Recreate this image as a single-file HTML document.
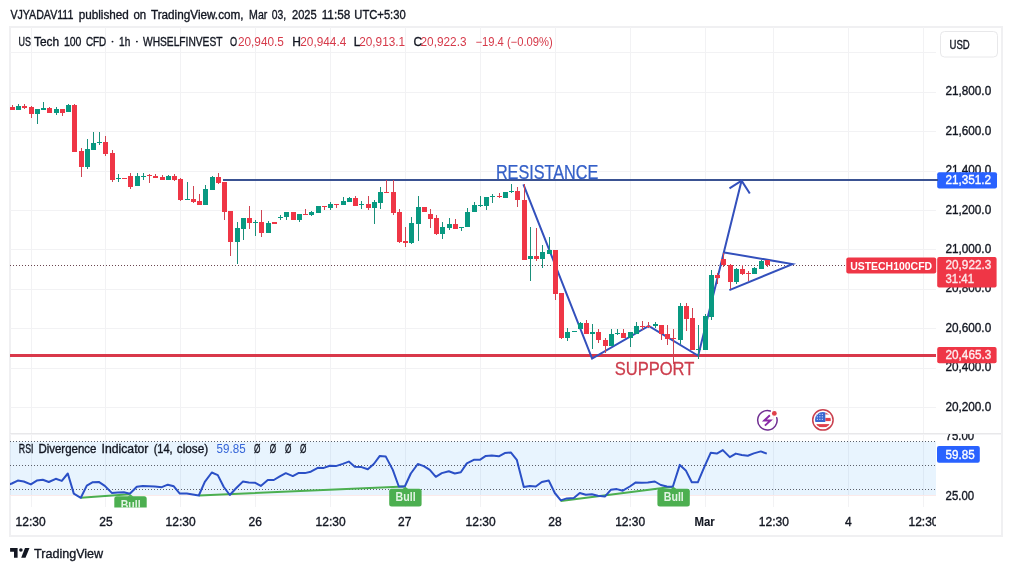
<!DOCTYPE html>
<html><head><meta charset="utf-8"><style>
html,body{margin:0;padding:0;background:#fff;}
body{width:1012px;height:571px;overflow:hidden;}
svg{display:block;font-family:'Liberation Sans', sans-serif;will-change:transform;}
</style></head><body>
<svg width="1012" height="571" viewBox="0 0 1012 571">
<defs>
<clipPath id="main"><rect x="10" y="27" width="926" height="406"/></clipPath>
<clipPath id="rsi"><rect x="10" y="435" width="926" height="72.5"/></clipPath>
<clipPath id="taxis"><rect x="10" y="507" width="926" height="29"/></clipPath>
</defs>
<text x="10.4" y="18.6" font-size="12" fill="#131722" font-weight="normal" text-anchor="start" textLength="63.0" lengthAdjust="spacingAndGlyphs" stroke="#131722" stroke-width="0.35">VJYADAV111</text>
<text x="78.7" y="18.6" font-size="12" fill="#131722" font-weight="normal" text-anchor="start" textLength="50.1" lengthAdjust="spacingAndGlyphs" stroke="#131722" stroke-width="0.35">published</text>
<text x="133.5" y="18.6" font-size="12" fill="#131722" font-weight="normal" text-anchor="start" textLength="12.7" lengthAdjust="spacingAndGlyphs" stroke="#131722" stroke-width="0.35">on</text>
<text x="150.9" y="18.6" font-size="12" fill="#131722" font-weight="normal" text-anchor="start" textLength="92.7" lengthAdjust="spacingAndGlyphs" stroke="#131722" stroke-width="0.35">TradingView.com,</text>
<text x="249.1" y="18.6" font-size="12" fill="#131722" font-weight="normal" text-anchor="start" textLength="18.2" lengthAdjust="spacingAndGlyphs" stroke="#131722" stroke-width="0.35">Mar</text>
<text x="271.7" y="18.6" font-size="12" fill="#131722" font-weight="normal" text-anchor="start" textLength="14.4" lengthAdjust="spacingAndGlyphs" stroke="#131722" stroke-width="0.35">03,</text>
<text x="292" y="18.6" font-size="12" fill="#131722" font-weight="normal" text-anchor="start" textLength="24.7" lengthAdjust="spacingAndGlyphs" stroke="#131722" stroke-width="0.35">2025</text>
<text x="321.7" y="18.6" font-size="12" fill="#131722" font-weight="normal" text-anchor="start" textLength="28.6" lengthAdjust="spacingAndGlyphs" stroke="#131722" stroke-width="0.35">11:58</text>
<text x="354.3" y="18.6" font-size="12" fill="#131722" font-weight="normal" text-anchor="start" textLength="51.4" lengthAdjust="spacingAndGlyphs" stroke="#131722" stroke-width="0.35">UTC+5:30</text>
<rect x="10" y="27" width="992" height="509" fill="none" stroke="#f0f0f2" stroke-width="2"/>
<path d="M31.5 27V433 M31.5 435V507 M105.5 27V433 M105.5 435V507 M180.5 27V433 M180.5 435V507 M255.5 27V433 M255.5 435V507 M330.5 27V433 M330.5 435V507 M405.5 27V433 M405.5 435V507 M480.5 27V433 M480.5 435V507 M555.5 27V433 M555.5 435V507 M630.5 27V433 M630.5 435V507 M705.5 27V433 M705.5 435V507 M773.5 27V433 M773.5 435V507 M848.5 27V433 M848.5 435V507 M923.5 27V433 M923.5 435V507 M10 52.5H936 M10 92.5H936 M10 131.5H936 M10 171.5H936 M10 210.5H936 M10 249.5H936 M10 289.5H936 M10 328.5H936 M10 368.5H936 M10 407.5H936" stroke="#f2f2f4" stroke-width="1" fill="none"/>
<path d="M10 433.5H1001" stroke="#e8e8ea" stroke-width="1"/>
<path d="M10 434.5H1001" stroke="#f3f3f5" stroke-width="1"/>
<g clip-path="url(#main)">
<path d="M10 265.5H846" stroke="#6a4650" stroke-width="1" stroke-dasharray="1 2"/>
<path d="M223 180H936" stroke="#3a5292" stroke-width="2"/>
<path d="M10 355.4H936" stroke="#d9384a" stroke-width="3"/>
<path d="M523.4 184.3L592.1 358.5L648.7 326L698.2 355.8L741.6 180.6" stroke="#3350bc" stroke-width="2" fill="none" stroke-linejoin="miter"/>
<path d="M729.5 188.3L741.6 180.6L749.8 193.5" stroke="#3350bc" stroke-width="2" fill="none"/>
<path d="M724.2 252.4L792.5 264.1L729.4 290.1" stroke="#3350bc" stroke-width="2" fill="none"/>
<text x="495.9" y="179.2" font-size="19.5" fill="#3560c8" font-weight="normal" text-anchor="start" textLength="102.4" lengthAdjust="spacingAndGlyphs" stroke="#3560c8" stroke-width="0.25">RESISTANCE</text>
<text x="614.7" y="374.5" font-size="19" fill="#cc3d4c" font-weight="normal" text-anchor="start" textLength="79.7" lengthAdjust="spacingAndGlyphs" stroke="#cc3d4c" stroke-width="0.3">SUPPORT</text>
<path d="M18.5 104V110 M37.5 109V124 M43.5 102V110 M56.5 107V115 M68.5 104V112 M87.5 139V169 M93.5 132V150 M99.5 132V145 M118.5 174V182 M137.5 173V186 M143.5 173V180 M168.5 175V180 M187.5 182V200 M205.5 185V205 M212.5 176V190 M237.5 222V264 M243.5 218V240 M255.5 220V236 M268.5 221V233 M280.5 215V220 M286.5 212V220 M299.5 214V222 M311.5 211V216 M318.5 206V213 M330.5 202V210 M343.5 197V205 M349.5 197V202 M361.5 201V209 M374.5 200V224 M380.5 187V209 M411.5 217V244 M418.5 196V241 M442.5 222V239 M449.5 218V230 M461.5 227V231 M467.5 208V227 M474.5 202V212 M480.5 196V207 M486.5 197V210 M492.5 194V203 M505.5 192V198 M511.5 184V193 M530.5 227V281 M542.5 245V268 M549.5 237V254 M567.5 328V341 M574.5 331V332 M580.5 322V329 M592.5 324V349 M611.5 329V346 M617.5 329V335 M630.5 332V347 M636.5 322V334 M655.5 322V328 M680.5 303V344 M698.5 325V359 M705.5 314V350 M711.5 270V320 M736.5 268V284 M754.5 267V274 M761.5 260V269" stroke="#1a8f7a" stroke-width="1" fill="none"/>
<path d="M12.5 105V110 M24.5 104V109 M31.5 106V118 M49.5 107V113 M62.5 109V116 M74.5 104V152 M81.5 148V177 M105.5 136V156 M112.5 150V182 M124.5 178V179 M130.5 173V189 M149.5 174V183 M155.5 174V178 M162.5 175V180 M174.5 174V181 M180.5 178V201 M193.5 186V203 M199.5 194V205 M218.5 173V184 M224.5 182V220 M230.5 211V256 M249.5 206V229 M261.5 210V237 M274.5 222V224 M293.5 212V220 M305.5 209V215 M324.5 206V210 M336.5 204V208 M355.5 196V206 M368.5 196V210 M386.5 180V193 M393.5 180V215 M399.5 209V243 M405.5 227V247 M424.5 207V212 M430.5 209V228 M436.5 215V235 M455.5 219V229 M499.5 193V198 M517.5 187V207 M524.5 184V260 M536.5 228V261 M555.5 250V300 M561.5 293V339 M586.5 320V334 M598.5 329V343 M605.5 338V353 M623.5 329V338 M642.5 321V330 M648.5 322V328 M661.5 325V340 M667.5 325V345 M673.5 329V364 M686.5 303V331 M692.5 308V350 M717.5 273V284 M723.5 253V267 M730.5 264V289 M742.5 265V275 M748.5 271V281 M767.5 260V267" stroke="#cf4452" stroke-width="1" fill="none"/>
<path d="M16 106h5V110h-5Z M35 109h5V114h-5Z M41 108h5V110h-5Z M54 109h5V113h-5Z M66 105h5V112h-5Z M85 149h5V167h-5Z M91 143h5V150h-5Z M97 142h5V143h-5Z M116 178h5V179h-5Z M135 176h5V186h-5Z M141 176h5V177h-5Z M166 176h5V180h-5Z M185 199h5V200h-5Z M203 189h5V205h-5Z M210 177h5V190h-5Z M235 228h5V242h-5Z M241 218h5V229h-5Z M253 222h5V223h-5Z M266 223h5V233h-5Z M278 217h5V218h-5Z M284 212h5V217h-5Z M297 214h5V220h-5Z M309 212h5V215h-5Z M316 206h5V213h-5Z M328 204h5V208h-5Z M341 201h5V205h-5Z M347 198h5V202h-5Z M359 204h5V205h-5Z M372 202h5V208h-5Z M378 192h5V203h-5Z M409 223h5V243h-5Z M416 207h5V224h-5Z M440 227h5V234h-5Z M447 224h5V228h-5Z M459 227h5V228h-5Z M465 212h5V227h-5Z M472 205h5V212h-5Z M478 205h5V206h-5Z M484 197h5V206h-5Z M490 196h5V197h-5Z M503 192h5V198h-5Z M509 191h5V192h-5Z M528 256h5V259h-5Z M540 252h5V259h-5Z M547 250h5V254h-5Z M565 332h5V338h-5Z M572 331h5V332h-5Z M578 323h5V329h-5Z M590 332h5V334h-5Z M609 334h5V346h-5Z M615 333h5V334h-5Z M628 332h5V338h-5Z M634 326h5V334h-5Z M653 324h5V326h-5Z M678 306h5V340h-5Z M696 349h5V350h-5Z M703 316h5V350h-5Z M709 275h5V317h-5Z M734 269h5V282h-5Z M752 268h5V274h-5Z M759 261h5V269h-5Z" fill="#089981"/>
<path d="M10 107h5V110h-5Z M22 106h5V108h-5Z M29 107h5V114h-5Z M47 108h5V113h-5Z M60 109h5V113h-5Z M72 105h5V152h-5Z M79 151h5V167h-5Z M103 142h5V154h-5Z M110 153h5V180h-5Z M122 178h5V179h-5Z M128 176h5V187h-5Z M147 175h5V176h-5Z M153 176h5V178h-5Z M160 177h5V180h-5Z M172 176h5V180h-5Z M178 179h5V200h-5Z M191 199h5V202h-5Z M197 201h5V205h-5Z M216 177h5V183h-5Z M222 182h5V212h-5Z M228 211h5V242h-5Z M247 218h5V223h-5Z M259 222h5V233h-5Z M272 222h5V224h-5Z M291 212h5V220h-5Z M303 214h5V215h-5Z M322 206h5V207h-5Z M334 204h5V205h-5Z M353 198h5V206h-5Z M366 204h5V208h-5Z M384 192h5V193h-5Z M391 192h5V213h-5Z M397 212h5V242h-5Z M403 241h5V243h-5Z M422 207h5V212h-5Z M428 214h5V219h-5Z M434 218h5V234h-5Z M453 224h5V229h-5Z M497 196h5V197h-5Z M515 191h5V200h-5Z M522 200h5V260h-5Z M534 256h5V259h-5Z M553 250h5V294h-5Z M559 293h5V338h-5Z M584 323h5V334h-5Z M596 332h5V340h-5Z M603 340h5V346h-5Z M621 333h5V338h-5Z M640 326h5V327h-5Z M646 326h5V327h-5Z M659 325h5V334h-5Z M665 334h5V339h-5Z M671 338h5V339h-5Z M684 306h5V319h-5Z M690 318h5V350h-5Z M715 275h5V278h-5Z M721 259h5V265h-5Z M728 265h5V282h-5Z M740 269h5V274h-5Z M746 273h5V274h-5Z M765 260h5V265h-5Z" fill="#ef3646"/>
<g>
<path d="M776.73 417.66A9.7 9.7 0 1 1 770.3 411.05" fill="none" stroke="#6f2d91" stroke-width="1.5" stroke-linecap="round"/>
<path d="M769.9 415.3L764.3 420.5H770.5L764.9 425.6" fill="none" stroke="#8a2aa8" stroke-width="1.9" stroke-linejoin="miter" stroke-linecap="butt"/>
<circle cx="774.35" cy="413.4" r="2.4" fill="#e0404a"/>
<circle cx="822.9" cy="419.9" r="10.2" fill="#fff" stroke="#c9404e" stroke-width="1.5"/>
<clipPath id="flag"><circle cx="822.9" cy="419.9" r="7.9"/></clipPath>
<g clip-path="url(#flag)">
<rect x="814" y="411" width="18" height="18" fill="#fff"/>
<rect x="825.3" y="412.6" width="6" height="1.9" fill="#e46070"/>
<rect x="825.3" y="417.9" width="6" height="3.2" fill="#e0404c"/>
<rect x="814" y="424.1" width="18" height="3.1" fill="#e0404c"/>
<rect x="814" y="411" width="11.3" height="11" fill="#3a66d0"/>
<rect x="816.8" y="413.8" width="1.1" height="1.1" fill="#cfe0ff"/><rect x="819.3" y="413.8" width="1.1" height="1.1" fill="#cfe0ff"/><rect x="821.8" y="413.8" width="1.1" height="1.1" fill="#cfe0ff"/><rect x="816.8" y="416.3" width="1.1" height="1.1" fill="#cfe0ff"/><rect x="819.3" y="416.3" width="1.1" height="1.1" fill="#cfe0ff"/><rect x="821.8" y="416.3" width="1.1" height="1.1" fill="#cfe0ff"/><rect x="816.8" y="418.8" width="1.1" height="1.1" fill="#cfe0ff"/><rect x="819.3" y="418.8" width="1.1" height="1.1" fill="#cfe0ff"/><rect x="821.8" y="418.8" width="1.1" height="1.1" fill="#cfe0ff"/>
</g>
</g>
</g>
<text x="18.6" y="45.7" font-size="12" fill="#131722" font-weight="normal" text-anchor="start" textLength="12.4" lengthAdjust="spacingAndGlyphs" stroke="#131722" stroke-width="0.35">US</text>
<text x="34" y="45.7" font-size="12" fill="#131722" font-weight="normal" text-anchor="start" textLength="25.1" lengthAdjust="spacingAndGlyphs" stroke="#131722" stroke-width="0.35">Tech</text>
<text x="63.9" y="45.7" font-size="12" fill="#131722" font-weight="normal" text-anchor="start" textLength="17.5" lengthAdjust="spacingAndGlyphs" stroke="#131722" stroke-width="0.35">100</text>
<text x="85.9" y="45.7" font-size="12" fill="#131722" font-weight="normal" text-anchor="start" textLength="20.4" lengthAdjust="spacingAndGlyphs" stroke="#131722" stroke-width="0.35">CFD</text>
<text x="119.1" y="45.7" font-size="12" fill="#131722" font-weight="normal" text-anchor="start" textLength="11.2" lengthAdjust="spacingAndGlyphs" stroke="#131722" stroke-width="0.35">1h</text>
<text x="143" y="45.7" font-size="12" fill="#131722" font-weight="normal" text-anchor="start" textLength="79.5" lengthAdjust="spacingAndGlyphs" stroke="#131722" stroke-width="0.35">WHSELFINVEST</text>
<circle cx="112.5" cy="41.6" r="0.95" fill="#131722"/><circle cx="136.9" cy="41.6" r="0.95" fill="#131722"/><text x="230.0" y="45.7" font-size="12" fill="#131722" font-weight="normal" text-anchor="start" textLength="7.1" lengthAdjust="spacingAndGlyphs" stroke="#131722" stroke-width="0.35">O</text><text x="237.9" y="45.6" font-size="12" fill="#d63a4a" font-weight="normal" text-anchor="start" textLength="46" lengthAdjust="spacingAndGlyphs">20,940.5</text><text x="292.3" y="45.6" font-size="12" fill="#131722" font-weight="normal" text-anchor="start" stroke="#131722" stroke-width="0.35">H</text><text x="300.3" y="45.6" font-size="12" fill="#d63a4a" font-weight="normal" text-anchor="start" textLength="46" lengthAdjust="spacingAndGlyphs">20,944.4</text><text x="353.8" y="45.6" font-size="12" fill="#131722" font-weight="normal" text-anchor="start" stroke="#131722" stroke-width="0.35">L</text><text x="359.2" y="45.6" font-size="12" fill="#d63a4a" font-weight="normal" text-anchor="start" textLength="46" lengthAdjust="spacingAndGlyphs">20,913.1</text><text x="413.6" y="45.6" font-size="12" fill="#131722" font-weight="normal" text-anchor="start" stroke="#131722" stroke-width="0.35">C</text><text x="420.5" y="45.6" font-size="12" fill="#d63a4a" font-weight="normal" text-anchor="start" textLength="46" lengthAdjust="spacingAndGlyphs">20,922.3</text><text x="475.4" y="45.6" font-size="12" fill="#d63a4a" font-weight="normal" text-anchor="start" textLength="77.3" lengthAdjust="spacingAndGlyphs">−19.4 (−0.09%)</text>
<rect x="940.5" y="31.5" width="57" height="25.5" rx="4" fill="#fff" stroke="#e8e8ea" stroke-width="1"/>
<text x="949.5" y="48.8" font-size="12" fill="#131722" font-weight="normal" text-anchor="start" textLength="20.2" lengthAdjust="spacingAndGlyphs" stroke="#131722" stroke-width="0.35">USD</text>
<g clip-path="url(#pax)">
<text x="945.4" y="95.39999999999999" font-size="12" fill="#131722" font-weight="normal" text-anchor="start" textLength="45.8" lengthAdjust="spacingAndGlyphs" stroke="#131722" stroke-width="0.35">21,800.0</text>
<text x="945.4" y="134.79999999999998" font-size="12" fill="#131722" font-weight="normal" text-anchor="start" textLength="45.8" lengthAdjust="spacingAndGlyphs" stroke="#131722" stroke-width="0.35">21,600.0</text>
<text x="945.4" y="174.29999999999998" font-size="12" fill="#131722" font-weight="normal" text-anchor="start" textLength="45.8" lengthAdjust="spacingAndGlyphs" stroke="#131722" stroke-width="0.35">21,400.0</text>
<text x="945.4" y="213.6" font-size="12" fill="#131722" font-weight="normal" text-anchor="start" textLength="45.8" lengthAdjust="spacingAndGlyphs" stroke="#131722" stroke-width="0.35">21,200.0</text>
<text x="945.4" y="252.7" font-size="12" fill="#131722" font-weight="normal" text-anchor="start" textLength="45.8" lengthAdjust="spacingAndGlyphs" stroke="#131722" stroke-width="0.35">21,000.0</text>
<text x="945.4" y="292.3" font-size="12" fill="#131722" font-weight="normal" text-anchor="start" textLength="45.8" lengthAdjust="spacingAndGlyphs" stroke="#131722" stroke-width="0.35">20,800.0</text>
<text x="945.4" y="331.70000000000005" font-size="12" fill="#131722" font-weight="normal" text-anchor="start" textLength="45.8" lengthAdjust="spacingAndGlyphs" stroke="#131722" stroke-width="0.35">20,600.0</text>
<text x="945.4" y="371.1" font-size="12" fill="#131722" font-weight="normal" text-anchor="start" textLength="45.8" lengthAdjust="spacingAndGlyphs" stroke="#131722" stroke-width="0.35">20,400.0</text>
<text x="945.4" y="410.5" font-size="12" fill="#131722" font-weight="normal" text-anchor="start" textLength="45.8" lengthAdjust="spacingAndGlyphs" stroke="#131722" stroke-width="0.35">20,200.0</text>
</g>
<defs><clipPath id="pax"><rect x="937" y="60" width="64" height="373"/></clipPath><clipPath id="rax"><rect x="937" y="434" width="64" height="73"/></clipPath></defs>
<rect x="937.2" y="172.2" width="59.8" height="16.4" rx="2" fill="#2962ff"/>
<text x="945.4" y="183.9" font-size="12" fill="#fff" font-weight="normal" text-anchor="start" textLength="45.6" lengthAdjust="spacingAndGlyphs" stroke="#fff" stroke-width="0.35">21,351.2</text>
<path d="M936 180H938" stroke="#3a5292" stroke-width="2"/>
<rect x="937.2" y="257.1" width="59.4" height="30.3" rx="2" fill="#ef3646"/>
<text x="945.5" y="268.9" font-size="12" fill="#fde8ea" font-weight="normal" text-anchor="start" textLength="45.8" lengthAdjust="spacingAndGlyphs" stroke="#fde8ea" stroke-width="0.35">20,922.3</text>
<text x="945.5" y="282.7" font-size="12" fill="#fde8ea" font-weight="normal" text-anchor="start" textLength="28.5" lengthAdjust="spacingAndGlyphs" stroke="#fde8ea" stroke-width="0.35">31:41</text>
<rect x="846.3" y="257.6" width="89.9" height="15.9" rx="2" fill="#ef3646"/>
<text x="850.2" y="269.8" font-size="11.5" fill="#fff" font-weight="bold" text-anchor="start" textLength="81.9" lengthAdjust="spacingAndGlyphs">USTECH100CFD</text>
<rect x="937.2" y="347" width="59.4" height="16.2" rx="2" fill="#ef3646"/>
<text x="945.5" y="359.2" font-size="12" fill="#fdeef0" font-weight="normal" text-anchor="start" textLength="45.8" lengthAdjust="spacingAndGlyphs" stroke="#fdeef0" stroke-width="0.35">20,465.3</text>
<g clip-path="url(#rsi)">
<rect x="10" y="441.5" width="926" height="54" fill="#2196f3" fill-opacity="0.1"/>
<path d="M10 495.5H936" stroke="#fbeaea" stroke-width="1"/>
<path d="M10 441.5H936" stroke="#5c606a" stroke-width="1" stroke-dasharray="1 2"/>
<path d="M10 465.5H936" stroke="#5c606a" stroke-width="1" stroke-dasharray="1 2"/>
<path d="M10 489.5H936" stroke="#5c606a" stroke-width="1" stroke-dasharray="1 2"/>
<path d="M80.6 497.8L129.6 494.2M199 495.5L404.5 486.6M560.7 500.9L672.6 486.7" stroke="#4caf50" stroke-width="2" fill="none"/>
<polyline points="5.7,485.5 11.80,483.5 17.80,480.6 23.80,481.5 30.80,484.4 36.80,480.6 42.80,479.7 48.80,482.0 55.80,478.8 61.80,480.9 67.80,473.5 73.80,493.6 80.80,497.8 86.80,485.6 92.80,482.2 98.80,481.9 104.80,485.9 111.80,492.9 117.80,492.4 123.80,492.3 129.80,493.8 136.80,486.8 142.80,485.9 148.80,486.2 154.80,486.5 161.80,487.2 167.80,484.7 173.80,486.3 179.80,493.6 186.80,493.6 192.80,494.5 198.80,495.5 204.80,481.9 211.80,472.5 217.80,475.1 223.80,487.0 229.80,495.0 236.80,487.5 242.80,481.6 248.80,482.6 254.80,482.7 260.80,485.9 267.80,480.0 273.80,480.0 279.80,476.4 285.80,473.2 292.80,476.1 298.80,472.9 304.80,473.1 310.80,471.7 317.80,467.8 323.80,467.9 329.80,465.8 335.80,466.1 342.80,463.9 348.80,461.6 354.80,466.7 360.80,466.9 367.80,469.3 373.80,464.0 379.80,455.9 385.80,456.6 392.80,469.9 398.80,486.5 404.80,486.5 410.80,473.5 417.80,464.0 423.80,466.1 429.80,469.9 435.80,476.8 441.80,473.1 448.80,471.3 454.80,473.5 460.80,472.3 466.80,463.4 473.80,459.8 479.80,459.8 485.80,455.9 491.80,455.4 498.80,456.3 504.80,453.1 510.80,452.4 516.80,459.8 523.80,487.1 529.80,485.9 535.80,486.5 541.80,482.0 548.80,480.6 554.80,493.0 560.80,500.4 566.80,498.4 573.80,498.1 579.80,493.0 585.80,494.8 591.80,494.2 597.80,495.8 604.80,496.6 610.80,489.8 616.80,489.1 622.80,490.7 629.80,486.5 635.80,482.4 641.80,482.7 647.80,482.4 654.80,481.5 660.80,485.0 666.80,486.5 672.80,486.8 679.80,464.9 685.80,470.4 691.80,482.3 697.80,482.3 704.80,465.9 710.80,452.7 716.80,453.6 722.80,450.1 729.80,457.1 735.80,453.6 741.80,455.0 747.80,455.7 753.80,453.4 760.80,451.4 766.80,453.6" fill="none" stroke="#2b50c6" stroke-width="2" stroke-linejoin="round"/>
<rect x="114.3" y="496.3" width="32.4" height="17.8" rx="2.5" fill="#4caf50"/>
<path d="M127.5 496.8L130.5 494.3L133.5 496.8Z" fill="#4caf50"/>
<text x="130.7" y="508.7" font-size="12" fill="#e3f4e4" font-weight="bold" text-anchor="middle" textLength="20" lengthAdjust="spacingAndGlyphs">Bull</text>
<rect x="389.2" y="488.7" width="32.4" height="17.8" rx="2.5" fill="#4caf50"/>
<path d="M402.4 489.2L405.4 486.7L408.4 489.2Z" fill="#4caf50"/>
<text x="405.59999999999997" y="501.09999999999997" font-size="12" fill="#e3f4e4" font-weight="bold" text-anchor="middle" textLength="20" lengthAdjust="spacingAndGlyphs">Bull</text>
<rect x="657.4" y="488.8" width="32.4" height="17.8" rx="2.5" fill="#4caf50"/>
<path d="M670.6 489.3L673.6 486.8L676.6 489.3Z" fill="#4caf50"/>
<text x="673.8" y="501.2" font-size="12" fill="#e3f4e4" font-weight="bold" text-anchor="middle" textLength="20" lengthAdjust="spacingAndGlyphs">Bull</text>
<text x="18.8" y="452.8" font-size="12" fill="#131722" font-weight="normal" text-anchor="start" textLength="14.7" lengthAdjust="spacingAndGlyphs" stroke="#131722" stroke-width="0.35">RSI</text>
<text x="38.4" y="452.8" font-size="12" fill="#131722" font-weight="normal" text-anchor="start" textLength="58.1" lengthAdjust="spacingAndGlyphs" stroke="#131722" stroke-width="0.35">Divergence</text>
<text x="101.5" y="452.8" font-size="12" fill="#131722" font-weight="normal" text-anchor="start" textLength="46.9" lengthAdjust="spacingAndGlyphs" stroke="#131722" stroke-width="0.35">Indicator</text>
<text x="153.7" y="452.8" font-size="12" fill="#131722" font-weight="normal" text-anchor="start" textLength="19.0" lengthAdjust="spacingAndGlyphs" stroke="#131722" stroke-width="0.35">(14,</text>
<text x="176.8" y="452.8" font-size="12" fill="#131722" font-weight="normal" text-anchor="start" textLength="31.4" lengthAdjust="spacingAndGlyphs" stroke="#131722" stroke-width="0.35">close)</text>
<text x="216.6" y="452.8" font-size="12" fill="#3565d8" font-weight="normal" text-anchor="start" textLength="29" lengthAdjust="spacingAndGlyphs">59.85</text>
<text x="254" y="452.8" font-size="12" fill="#131722" font-weight="normal" text-anchor="start" textLength="6.4" lengthAdjust="spacingAndGlyphs" stroke="#131722" stroke-width="0.35">Ø</text>
<text x="269.8" y="452.8" font-size="12" fill="#131722" font-weight="normal" text-anchor="start" textLength="6.4" lengthAdjust="spacingAndGlyphs" stroke="#131722" stroke-width="0.35">Ø</text>
<text x="285.1" y="452.8" font-size="12" fill="#131722" font-weight="normal" text-anchor="start" textLength="6.4" lengthAdjust="spacingAndGlyphs" stroke="#131722" stroke-width="0.35">Ø</text>
<text x="300" y="452.8" font-size="12" fill="#131722" font-weight="normal" text-anchor="start" textLength="6.4" lengthAdjust="spacingAndGlyphs" stroke="#131722" stroke-width="0.35">Ø</text>
</g>
<g clip-path="url(#rax)">
<text x="945.6" y="440" font-size="12" fill="#131722" font-weight="normal" text-anchor="start" textLength="28.6" lengthAdjust="spacingAndGlyphs" stroke="#131722" stroke-width="0.35">75.00</text>
<text x="945.6" y="499.8" font-size="12" fill="#131722" font-weight="normal" text-anchor="start" textLength="28.6" lengthAdjust="spacingAndGlyphs" stroke="#131722" stroke-width="0.35">25.00</text>
</g>
<rect x="937" y="446.1" width="42.8" height="16.6" rx="2" fill="#2962ff"/>
<text x="945.5" y="458.8" font-size="12" fill="#fff" font-weight="normal" text-anchor="start" textLength="29.1" lengthAdjust="spacingAndGlyphs" stroke="#fff" stroke-width="0.35">59.85</text>
<g clip-path="url(#taxis)">
<text x="30.6" y="526" font-size="12" fill="#131722" font-weight="normal" text-anchor="middle" stroke="#131722" stroke-width="0.35">12:30</text>
<text x="105.9" y="526" font-size="12" fill="#131722" font-weight="normal" text-anchor="middle" stroke="#131722" stroke-width="0.35">25</text>
<text x="180.6" y="526" font-size="12" fill="#131722" font-weight="normal" text-anchor="middle" stroke="#131722" stroke-width="0.35">12:30</text>
<text x="255.3" y="526" font-size="12" fill="#131722" font-weight="normal" text-anchor="middle" stroke="#131722" stroke-width="0.35">26</text>
<text x="330.6" y="526" font-size="12" fill="#131722" font-weight="normal" text-anchor="middle" stroke="#131722" stroke-width="0.35">12:30</text>
<text x="404.7" y="526" font-size="12" fill="#131722" font-weight="normal" text-anchor="middle" stroke="#131722" stroke-width="0.35">27</text>
<text x="480.6" y="526" font-size="12" fill="#131722" font-weight="normal" text-anchor="middle" stroke="#131722" stroke-width="0.35">12:30</text>
<text x="554.9" y="526" font-size="12" fill="#131722" font-weight="normal" text-anchor="middle" stroke="#131722" stroke-width="0.35">28</text>
<text x="630.2" y="526" font-size="12" fill="#131722" font-weight="normal" text-anchor="middle" stroke="#131722" stroke-width="0.35">12:30</text>
<text x="704.6" y="526" font-size="12" fill="#131722" font-weight="bold" text-anchor="middle" textLength="20.3" lengthAdjust="spacingAndGlyphs" stroke="#131722" stroke-width="0.1">Mar</text>
<text x="773.8" y="526" font-size="12" fill="#131722" font-weight="normal" text-anchor="middle" stroke="#131722" stroke-width="0.35">12:30</text>
<text x="848.4" y="526" font-size="12" fill="#131722" font-weight="normal" text-anchor="middle" stroke="#131722" stroke-width="0.35">4</text>
<text x="923.5" y="526" font-size="12" fill="#131722" font-weight="normal" text-anchor="middle" stroke="#131722" stroke-width="0.35">12:30</text>
</g>
<path d="M10.1 548.1H17.6V557.7H14V551.7H10.1Z" fill="#131722"/>
<circle cx="20.9" cy="550" r="1.8" fill="#131722"/>
<path d="M25 548.1H29.5L25.5 557.7H21.2Z" fill="#131722"/>
<text x="34.0" y="557.8" font-size="13" fill="#131722" font-weight="normal" text-anchor="start" textLength="69.2" lengthAdjust="spacingAndGlyphs" stroke="#131722" stroke-width="0.35">TradingView</text>
</svg>
</body></html>
